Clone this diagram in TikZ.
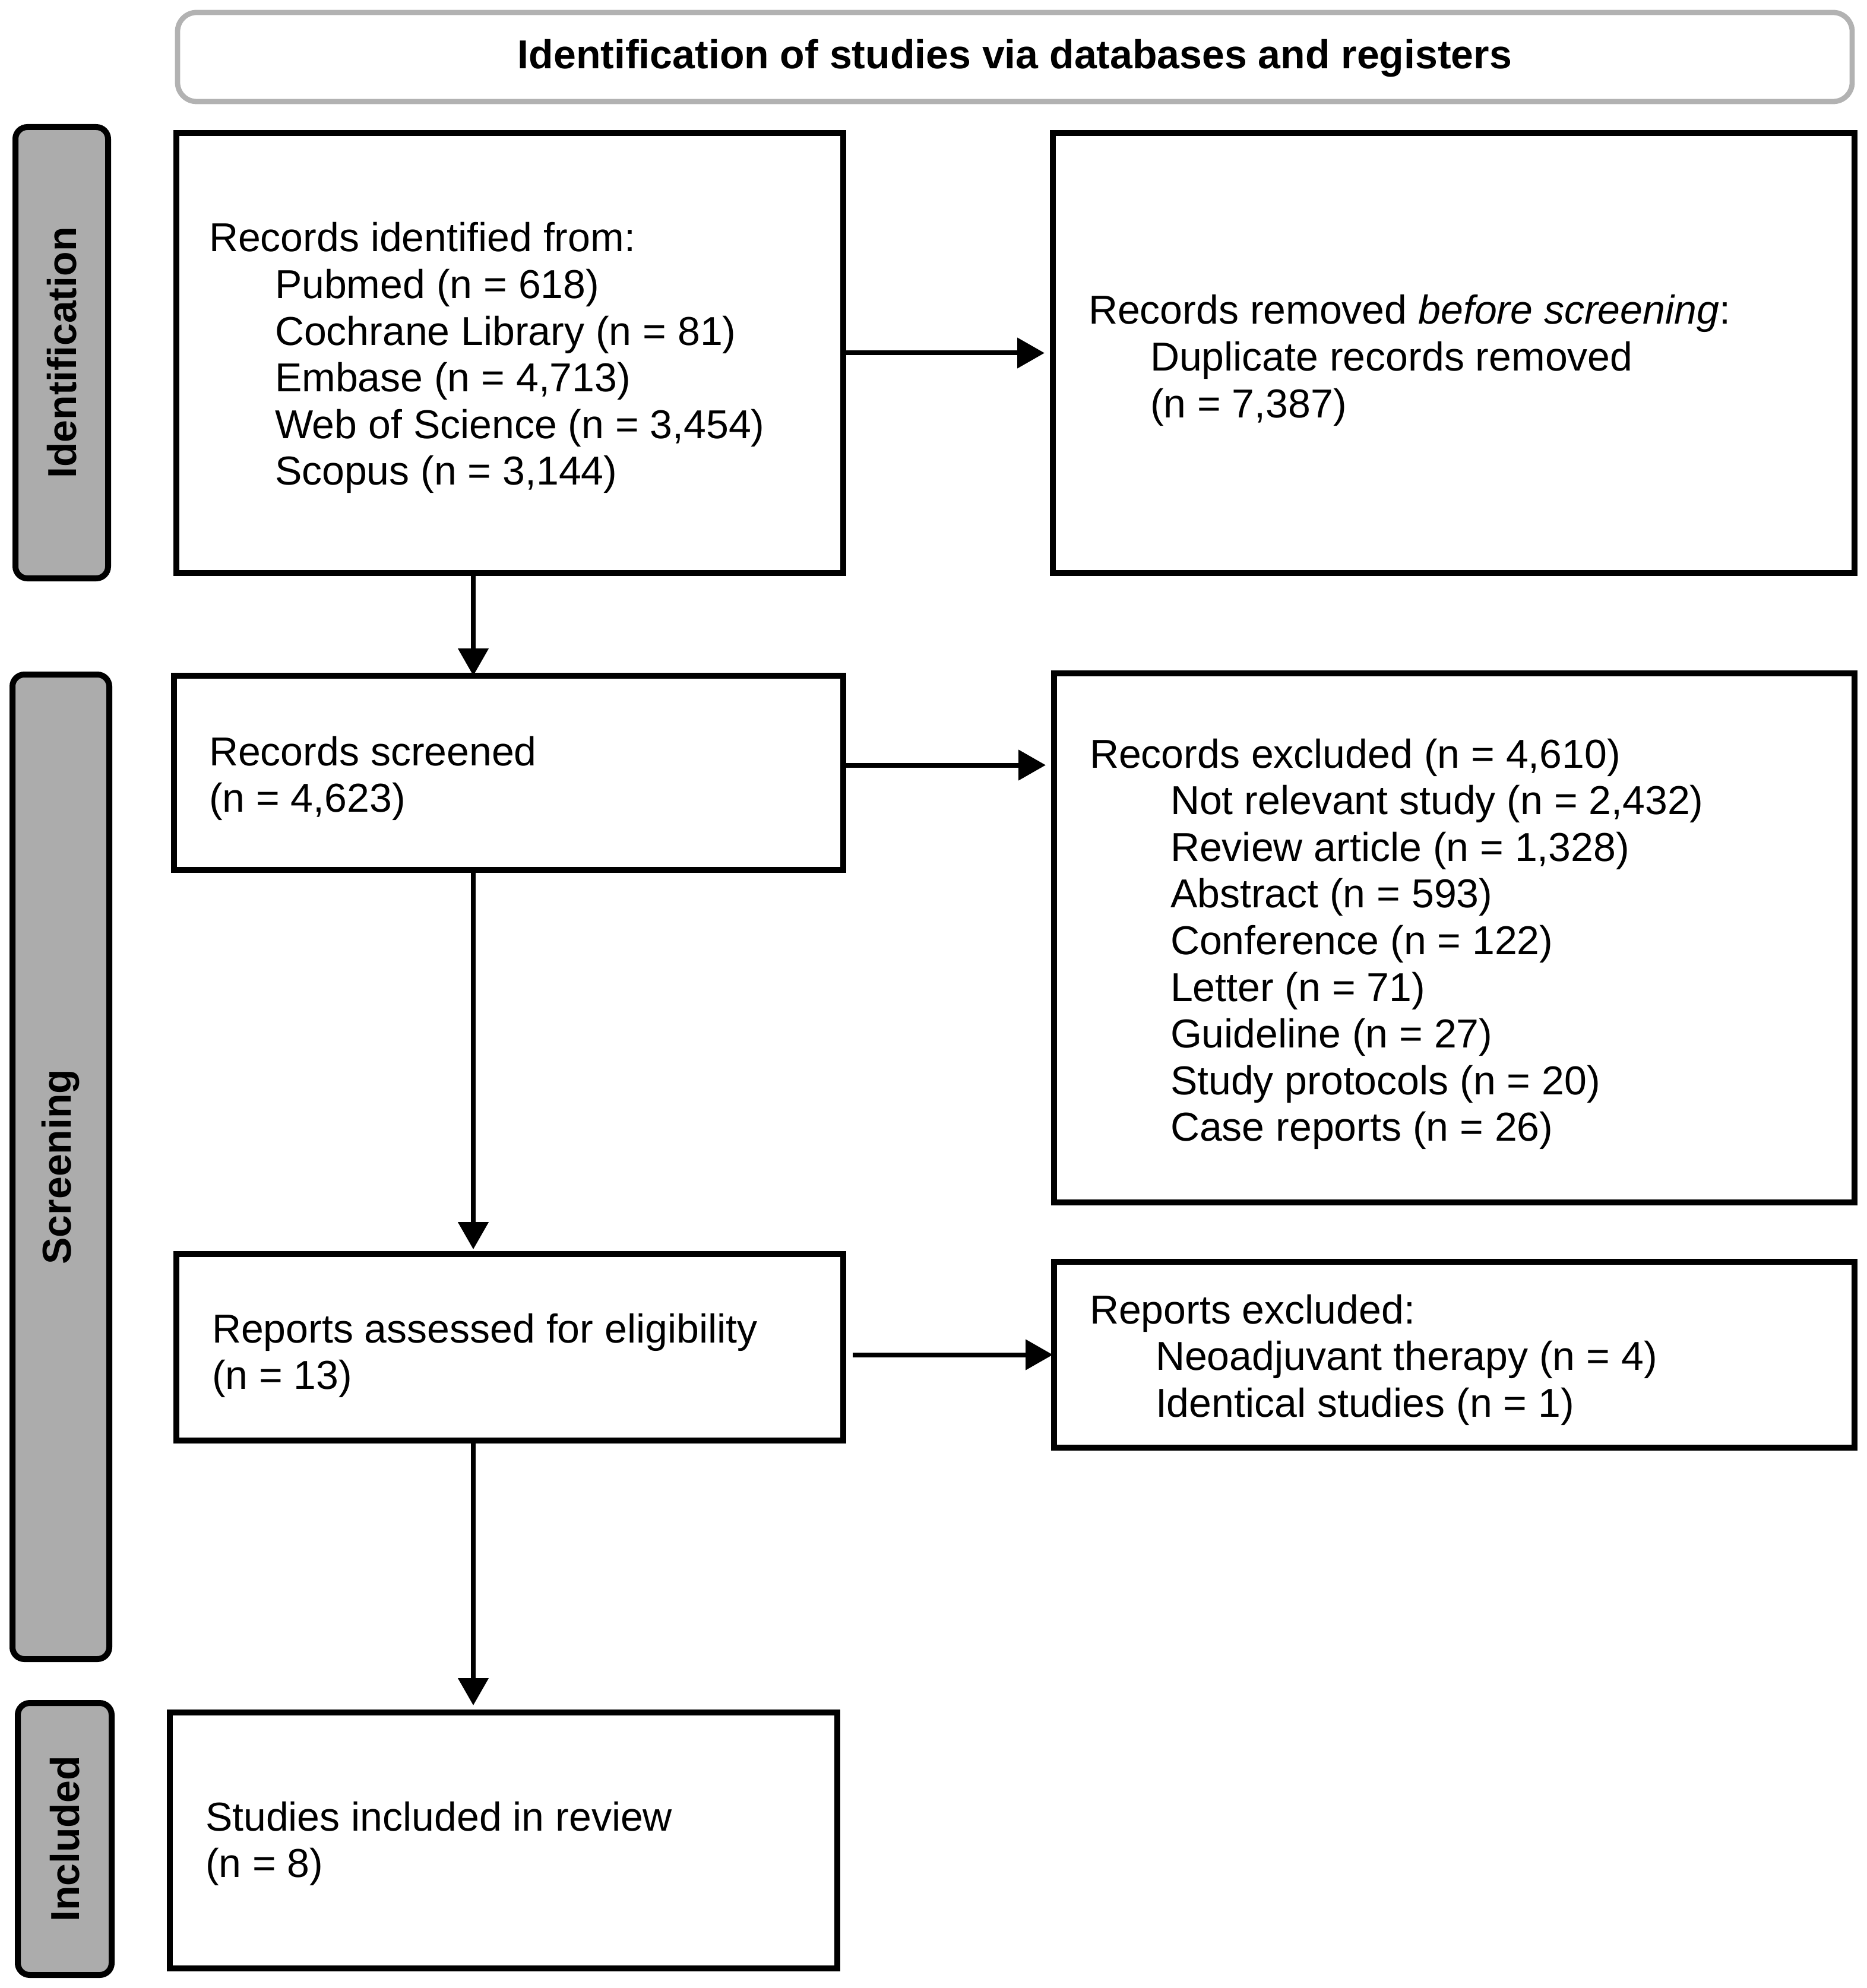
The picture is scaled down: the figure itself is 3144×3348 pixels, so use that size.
\documentclass[tikz,border=0pt]{standalone}
\usepackage{fontspec}
\setmainfont{Liberation Sans}
\usetikzlibrary{arrows.meta}
\definecolor{barfill}{HTML}{ACACAC}
\definecolor{hdrline}{HTML}{B2B2B2}
\begin{document}
\begin{tikzpicture}[x=0.25pt,y=-0.25pt,
  every node/.style={inner sep=0pt, outer sep=0pt},
  box/.style={draw=black, line width=2.6pt, rectangle, fill=white},
  sidebar/.style={draw=black, line width=2.5pt, fill=barfill, rounded corners=5pt},
  hdr/.style={draw=hdrline, line width=2.2pt, rounded corners=8pt, fill=white},
  txt/.style={anchor=base west, font=\fontsize{17}{19.65}\selectfont},
  lab/.style={font=\fontsize{17}{19.65}\selectfont\bfseries},
  arr/.style={draw=black, line width=2pt, -{Triangle[length=11.5pt,width=12.5pt]}}]
\useasboundingbox (0,0) rectangle (3144,3348);
% header
\node[hdr, minimum width=705pt, minimum height=37.5pt] (hdr) at (1709,96) {};
\node[lab] (hdrt) at (1709,98) {Identification of studies via databases and registers};
% side bars
\node[sidebar, minimum width=39pt, minimum height=190pt] (idbar) at (104,594) {};
\node[lab, rotate=90] (idlab) at (104,594) {Identification};
\node[sidebar, minimum width=40.75pt, minimum height=414.5pt] (scbar) at (102.5,1965) {};
\node[lab, rotate=90] (sclab) at (102.5,1965) {Screening};
\node[sidebar, minimum width=39.5pt, minimum height=114.5pt] (inbar) at (109,3097) {};
\node[lab, rotate=90] (inlab) at (109,3097) {Included};
% boxes
\node[box, minimum width=280.75pt, minimum height=185.25pt] (b1) at (858.5,594.5) {};
\node[box, minimum width=337.5pt, minimum height=185.25pt] (b2) at (2448,594.5) {};
\node[box, minimum width=281.75pt, minimum height=81.75pt] (scr) at (856.5,1301.5) {};
\node[box, minimum width=337pt, minimum height=222.75pt] (exc) at (2449,1579.5) {};
\node[box, minimum width=280.75pt, minimum height=78.5pt] (ass) at (858.5,2269) {};
\node[box, minimum width=337pt, minimum height=78.25pt] (rep) at (2449,2281.5) {};
\node[box, minimum width=281pt, minimum height=107.75pt] (inc) at (848,3099.5) {};
% texts
\node[txt] (t1) at (352,424) {\begin{tabular}[t]{@{}l@{}}Records identified from:\\
\hspace*{27.75pt}Pubmed (n = 618)\\
\hspace*{27.75pt}Cochrane Library (n = 81)\\
\hspace*{27.75pt}Embase (n = 4,713)\\
\hspace*{27.75pt}Web of Science (n = 3,454)\\
\hspace*{27.75pt}Scopus (n = 3,144)\end{tabular}};
\node[txt] (t2) at (1833,546) {\begin{tabular}[t]{@{}l@{}}Records removed \textit{before screening}:\\
\hspace*{26pt}Duplicate records removed\\
\hspace*{26pt}(n = 7,387)\end{tabular}};
\node[txt] (t3) at (352,1289) {\begin{tabular}[t]{@{}l@{}}Records screened\\(n = 4,623)\end{tabular}};
\node[txt] (t4) at (1835,1293) {\begin{tabular}[t]{@{}l@{}}Records excluded (n = 4,610)\\
\hspace*{34pt}Not relevant study (n = 2,432)\\
\hspace*{34pt}Review article (n = 1,328)\\
\hspace*{34pt}Abstract (n = 593)\\
\hspace*{34pt}Conference (n = 122)\\
\hspace*{34pt}Letter (n = 71)\\
\hspace*{34pt}Guideline (n = 27)\\
\hspace*{34pt}Study protocols (n = 20)\\
\hspace*{34pt}Case reports (n = 26)\end{tabular}};
\node[txt] (t5) at (357,2261) {\begin{tabular}[t]{@{}l@{}}Reports assessed for eligibility\\(n = 13)\end{tabular}};
\node[txt] (t6) at (1835,2229) {\begin{tabular}[t]{@{}l@{}}Reports excluded:\\
\hspace*{27.75pt}Neoadjuvant therapy (n = 4)\\
\hspace*{27.75pt}Identical studies (n = 1)\end{tabular}};
\node[txt] (t7) at (346,3083) {\begin{tabular}[t]{@{}l@{}}Studies included in review\\(n = 8)\end{tabular}};
% connectors
\coordinate (colx) at (797,0);
\draw[arr, shorten >=3.5pt] (b1.east) -- (b2.west);
\draw[arr, shorten >=3.5pt] ([yshift=3.25pt]scr.east) -- ([yshift=3.25pt]scr.east -| exc.west);
\draw[arr] ([xshift=4pt]ass.east |- rep.west) -- ([xshift=-0.5pt]rep.west);
\draw[arr] (b1.south -| colx) -- (scr.north -| colx);
\draw[arr, shorten >=2pt] (scr.south -| colx) -- (ass.north -| colx);
\draw[arr, shorten >=3pt] (ass.south -| colx) -- (inc.north -| colx);
\end{tikzpicture}
\end{document}
